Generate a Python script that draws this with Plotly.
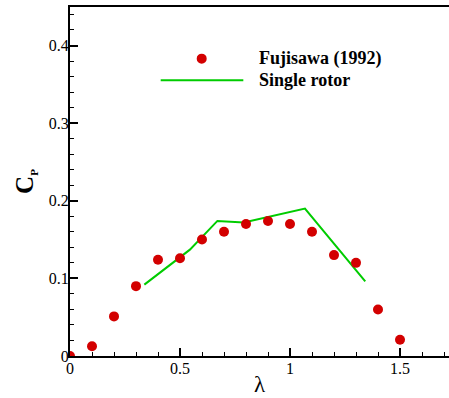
import plotly.graph_objects as go

# Experimental data: Fujisawa (1992)
exp_lambda = [0.0, 0.1, 0.2, 0.3, 0.4, 0.5, 0.6, 0.7, 0.8, 0.9, 1.0, 1.1, 1.2, 1.3, 1.4, 1.5]
exp_cp = [0.0, 0.0125, 0.051, 0.09, 0.124, 0.126, 0.15, 0.16, 0.17, 0.174, 0.17, 0.16, 0.13, 0.12, 0.06, 0.021]

# Simulation: single rotor
sim_lambda = [0.338, 0.545, 0.670, 0.790, 1.068, 1.342]
sim_cp = [0.092, 0.137, 0.174, 0.172, 0.190, 0.096]

x_tickvals = [0, 0.5, 1, 1.5]
x_ticktext = ["0", "0.5", "1", "1.5"]
y_tickvals = [0, 0.1, 0.2, 0.3, 0.4]
y_ticktext = ["0", "0.1", "0.2", "0.3", "0.4"]

legend_names = ["Fujisawa (1992)", "Single rotor"]

RED = "#D30000"
GREEN = "#00CC00"
FONT = "Liberation Serif"

fig = go.Figure()
fig.add_trace(go.Scatter(x=sim_lambda, y=sim_cp, mode="lines",
                         line=dict(color=GREEN, width=2), showlegend=False))
fig.add_trace(go.Scatter(x=exp_lambda, y=exp_cp, mode="markers",
                         marker=dict(color=RED, size=10, line=dict(width=0)),
                         showlegend=False))

# custom legend
fig.add_shape(type="circle", xref="paper", yref="paper",
              x0=0.3475 - 0.0132, x1=0.3475 + 0.0132,
              y0=0.852 - 0.0143, y1=0.852 + 0.0143,
              fillcolor=RED, line=dict(width=0))
fig.add_shape(type="line", xref="paper", yref="paper",
              x0=0.2393, x1=0.4573, y0=0.790, y1=0.790,
              line=dict(color=GREEN, width=2))
fig.add_annotation(xref="paper", yref="paper", x=0.4926, y=0.852,
                   text="<b>" + legend_names[0] + "</b>", showarrow=False,
                   xanchor="left", yanchor="middle",
                   font=dict(family=FONT, size=18, color="black"))
fig.add_annotation(xref="paper", yref="paper", x=0.4926, y=0.790,
                   text="<b>" + legend_names[1] + "</b>", showarrow=False,
                   xanchor="left", yanchor="middle",
                   font=dict(family=FONT, size=18, color="black"))

fig.update_layout(
    width=449, height=398,
    margin=dict(l=70, r=0, t=7, b=42, autoexpand=False),
    paper_bgcolor="white", plot_bgcolor="white",
    font=dict(family=FONT, size=16, color="black"),
    xaxis=dict(range=[0, 1.7227], showgrid=False, zeroline=False, automargin=False,
               showline=True, linecolor="black", linewidth=2, mirror=True,
               ticks="inside", ticklen=8, tickwidth=1.5, tickcolor="black",
               tickvals=x_tickvals, ticktext=x_ticktext, ticklabelstandoff=-3,
               minor=dict(dtick=0.1, tick0=0, ticks="inside", ticklen=4,
                          tickwidth=1, tickcolor="black", showgrid=False),
               title=dict(text="λ", font=dict(family=FONT, size=23), standoff=0)),
    yaxis=dict(range=[0, 0.4496], showgrid=False, zeroline=False, automargin=False,
               showline=True, linecolor="black", linewidth=2,
               ticks="inside", ticklen=8, tickwidth=1.5, tickcolor="black",
               tickvals=y_tickvals, ticktext=y_ticktext, ticklabelstandoff=-4,
               minor=dict(dtick=0.02, tick0=0, ticks="inside", ticklen=4,
                          tickwidth=1, tickcolor="black", showgrid=False),
               title=dict(text="<b>C<sub><span style='font-size:11px'>P</span></sub></b>",
                          font=dict(family=FONT, size=25), standoff=8)),
)

fig.write_html("out.html", config={"displayModeBar": False},
               post_script="document.body.style.margin='0';document.body.style.overflow='hidden';")
